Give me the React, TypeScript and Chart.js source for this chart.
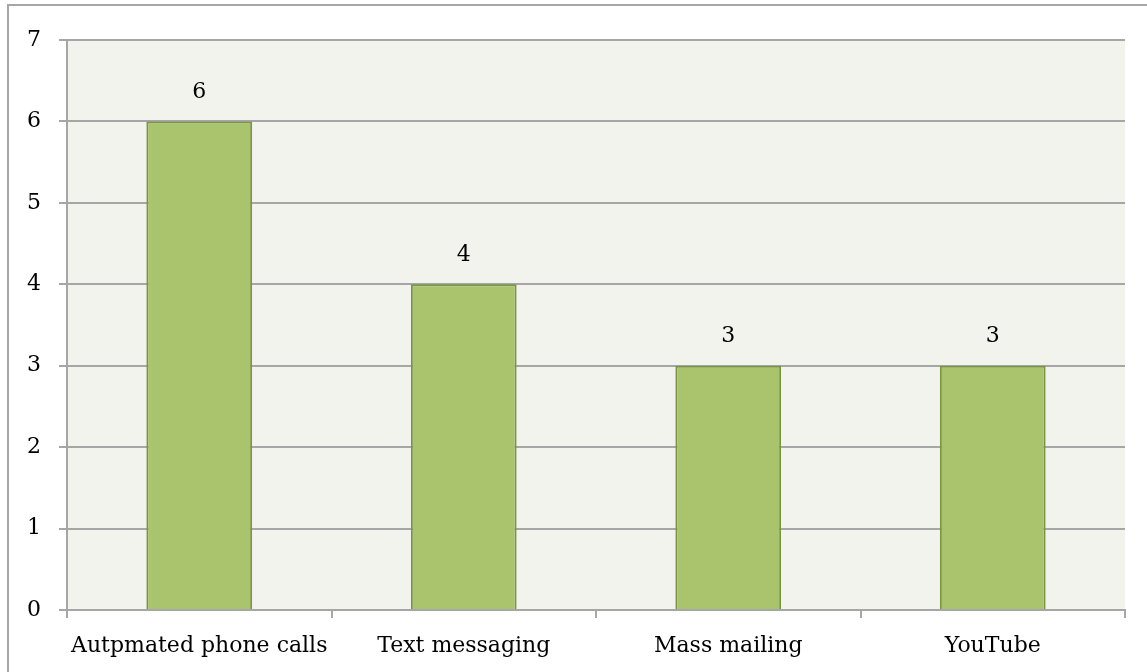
import React, { useEffect, useRef } from "react";
import { Chart, registerables } from "chart.js";

Chart.register(...registerables);

const categories = ["Autpmated phone calls", "Text messaging", "Mass mailing", "YouTube"];
const values = [6, 4, 3, 3];
const yTicks = [0, 1, 2, 3, 4, 5, 6, 7];

const FONT = "'DejaVu Serif', serif";

const frameAndBg = {
  id: "frameAndBg",
  beforeDraw(chart: any) {
    const { ctx, chartArea } = chart;
    ctx.save();
    ctx.fillStyle = "#ffffff";
    ctx.fillRect(0, 0, chart.width, chart.height);
    ctx.strokeStyle = "#A6A6A6";
    ctx.lineWidth = 2;
    ctx.beginPath();
    ctx.moveTo(8, chart.height + 5);
    ctx.lineTo(8, 5);
    ctx.lineTo(chart.width + 5, 5);
    ctx.stroke();
    ctx.fillStyle = "#F1F3EC";
    ctx.fillRect(chartArea.left, chartArea.top, chartArea.right - chartArea.left, chartArea.bottom - chartArea.top);
    ctx.restore();
  },
};

const valueLabels = {
  id: "valueLabels",
  afterDatasetsDraw(chart: any) {
    const { ctx } = chart;
    const meta = chart.getDatasetMeta(0);
    ctx.save();
    ctx.fillStyle = "#000000";
    ctx.font = `22px ${FONT}`;
    ctx.textAlign = "center";
    ctx.textBaseline = "middle";
    meta.data.forEach((bar: any, i: number) => {
      ctx.fillText(String(values[i]), bar.x, bar.y - 29);
    });
    ctx.restore();
  },
};

export default function App() {
  const ref = useRef<HTMLCanvasElement>(null);
  useEffect(() => {
    if (!ref.current) return;
    const chart = new Chart(ref.current, {
      type: "bar",
      data: {
        labels: categories,
        datasets: [
          {
            data: values,
            backgroundColor: "#A9C46C",
            borderColor: "#7A9644",
            borderWidth: 2,
            categoryPercentage: 1,
            barPercentage: 0.4,
          },
        ],
      },
      options: {
        responsive: false,
        animation: false,
        maintainAspectRatio: false,
        layout: { padding: { top: 40, right: 22, bottom: 0, left: 0 } },
        plugins: { legend: { display: false }, tooltip: { enabled: false } },
        scales: {
          x: {
            grid: {
              display: true,
              drawOnChartArea: false,
              offset: true,
              tickLength: 8,
              color: "#A6A6A6",
              lineWidth: 2,
            },
            border: { display: true, color: "#A6A6A6", width: 2 },
            ticks: {
              color: "#000000",
              font: { family: FONT, size: 22 },
              padding: 15,
              maxRotation: 0,
              autoSkip: false,
            },
            afterFit(scale: any) {
              scale.height = 62;
            },
          },
          y: {
            min: 0,
            max: 7,
            afterBuildTicks(scale: any) {
              scale.ticks = yTicks.map((v) => ({ value: v }));
            },
            grid: { color: "#A6A6A6", lineWidth: 2, tickLength: 8 },
            border: { display: true, color: "#A6A6A6", width: 2 },
            ticks: {
              color: "#000000",
              font: { family: FONT, size: 22 },
              padding: 18,
            },
            afterFit(scale: any) {
              scale.width = 67;
            },
          },
        },
      },
      plugins: [frameAndBg, valueLabels],
    });
    return () => chart.destroy();
  }, []);
  return (
    <div style={{ position: "absolute", left: 0, top: 0, width: 1147, height: 672 }}>
      <canvas ref={ref} width={1147} height={672} style={{ display: "block" }} />
    </div>
  );
}
